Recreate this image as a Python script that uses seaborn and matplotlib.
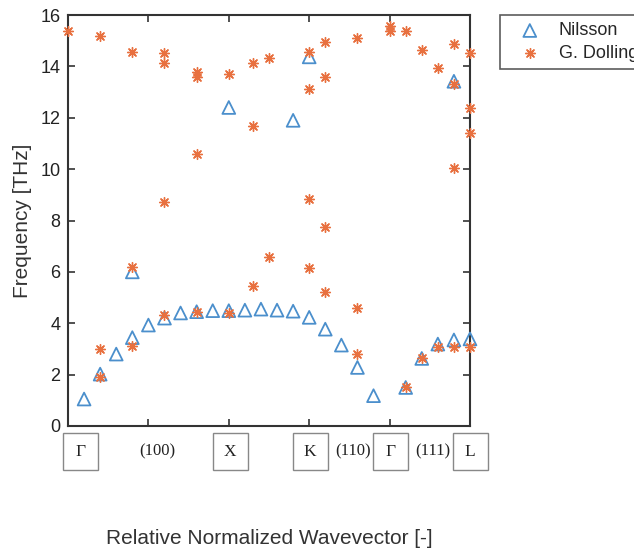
import numpy as np
import pandas as pd
import matplotlib
matplotlib.use("Agg")
import matplotlib.pyplot as plt
import seaborn as sns
from matplotlib.patches import Rectangle

# ---- data ----
nilsson_x = [0.04, 0.08, 0.12, 0.16, 0.16, 0.20, 0.24, 0.28, 0.32, 0.36,
             0.40, 0.40, 0.44, 0.48, 0.52, 0.56, 0.56, 0.60, 0.60, 0.64,
             0.68, 0.72, 0.76, 0.84, 0.88, 0.92, 0.96, 0.96, 1.00]
nilsson_y = [1.05, 2.02, 2.80, 3.44, 6.00, 3.93, 4.20, 4.40, 4.45, 4.49,
             4.49, 12.40, 4.51, 4.55, 4.51, 4.47, 11.90, 4.23, 14.37, 3.77,
             3.15, 2.28, 1.18, 1.50, 2.63, 3.19, 3.35, 13.42, 3.39]

dolling_x = [0.00,
             0.08, 0.08, 0.08,
             0.16, 0.16, 0.16,
             0.24, 0.24, 0.24, 0.24,
             0.32, 0.32, 0.32, 0.32,
             0.40, 0.40,
             0.46, 0.46, 0.46,
             0.50, 0.50,
             0.60, 0.60, 0.60, 0.60,
             0.64, 0.64, 0.64, 0.64,
             0.72, 0.72, 0.72,
             0.80, 0.80,
             0.84, 0.84,
             0.88, 0.88,
             0.92, 0.92,
             0.96, 0.96, 0.96, 0.96,
             1.00, 1.00, 1.00, 1.00]
dolling_y = [15.37,
             15.17, 2.98, 1.92,
             14.56, 6.20, 3.12,
             14.53, 14.13, 8.73, 4.32,
             13.79, 13.60, 10.58, 4.45,
             13.72, 4.38,
             14.13, 11.67, 5.46,
             14.33, 6.59,
             14.56, 13.10, 8.82, 6.17,
             14.95, 13.60, 7.73, 5.20,
             15.10, 4.58, 2.80,
             15.56, 15.38,
             15.38, 1.53,
             14.65, 2.63,
             13.94, 3.06,
             14.86, 13.30, 10.05, 3.06,
             14.53, 12.39, 11.41, 3.06]

series_names = ["Nilsson", "G. Dolling"]
y_ticks = [0, 2, 4, 6, 8, 10, 12, 14, 16]
x_ticks = [0.2, 0.4, 0.6, 0.8]
boxed_labels = ["Γ", "X", "K", "Γ", "L"]
boxed_pos = [0.03, 0.403, 0.602, 0.803, 1.0]
dir_labels = ["(100)", "(110)", "(111)"]
dir_pos = [0.221, 0.709, 0.908]

df_n = pd.DataFrame({"x": nilsson_x, "y": nilsson_y})
df_d = pd.DataFrame({"x": dolling_x, "y": dolling_y})

# ---- style ----
sns.set_style("white")
plt.rcParams["font.family"] = ["Liberation Sans", "DejaVu Sans"]

blue = "#4b8fcc"
orange = "#e8703f"
dark = "#333333"

fig = plt.figure(figsize=(6.34, 5.52), dpi=100)
ax = fig.add_axes([68 / 634, 1 - 426 / 552, (470 - 68) / 634, (426 - 15) / 552])

sns.scatterplot(data=df_n, x="x", y="y", ax=ax, marker="^", s=85,
                color=blue, facecolor="none", edgecolor=blue, linewidth=1.3,
                label=series_names[0], zorder=3, clip_on=False)
sns.scatterplot(data=df_d, x="x", y="y", ax=ax, marker=(8, 2, 0), s=50,
                color=orange, linewidth=1.0,
                label=series_names[1], zorder=4, clip_on=False)

ax.set_xlim(0, 1)
ax.set_ylim(0, 16)
ax.set_xticks(x_ticks)
ax.set_xticklabels([])
ax.set_yticks(y_ticks)
ax.set_yticklabels([str(t) for t in y_ticks], fontsize=13, color="#222222")
ax.tick_params(direction="in", length=5, width=1.2, color=dark,
               top=True, right=True, bottom=True, left=True, pad=5.5)
for sp in ax.spines.values():
    sp.set_visible(True)
    sp.set_color(dark)
    sp.set_linewidth(1.5)

ax.set_xlabel("")
ax.set_ylabel("Frequency [THz]", fontsize=15, color="#333333", labelpad=6)

# boxed symmetry-point labels
bw = 35 / 402
bh = 37 / 411
btop = -7 / 411
for lab, xp in zip(boxed_labels, boxed_pos):
    ax.add_patch(Rectangle((xp - bw / 2, btop - bh), bw, bh, transform=ax.transAxes,
                           fill=False, edgecolor="#888888", linewidth=1.0,
                           clip_on=False))
    ax.text(xp, btop - bh / 2, lab, transform=ax.transAxes, ha="center",
            va="center", fontsize=12.5, family="Liberation Serif", color="#222222")
for lab, xp in zip(dir_labels, dir_pos):
    ax.text(xp, btop - bh / 2, lab, transform=ax.transAxes, ha="center",
            va="center", fontsize=12, family="Liberation Serif", color="#222222")

fig.text(269 / 634, 1 - 539 / 552, "Relative Normalized Wavevector [-]",
         ha="center", va="center", fontsize=15, color="#333333")

leg = ax.legend(loc="upper left", bbox_to_anchor=(500 / 634, 1 - 15 / 552),
                bbox_transform=fig.transFigure, frameon=True, fancybox=False,
                fontsize=13, borderpad=0.4, handletextpad=0.35, labelspacing=0.3,
                handlelength=2.5, borderaxespad=0)
leg.get_frame().set_edgecolor(dark)
leg.get_frame().set_linewidth(1.2)

fig.savefig("out.png", dpi=100)
